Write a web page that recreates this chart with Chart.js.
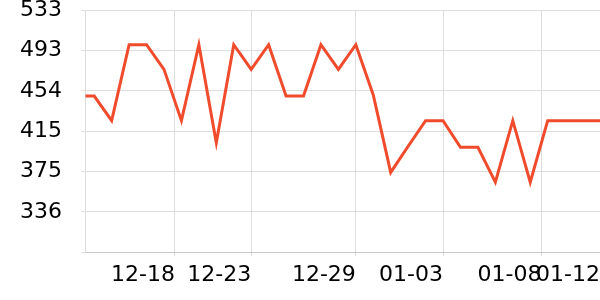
<!DOCTYPE html>
<html>
<head>
<meta charset="utf-8">
<script src="https://cdn.jsdelivr.net/npm/chart.js@4/dist/chart.umd.min.js"></script>
<style>
  html, body { margin: 0; padding: 0; background: #fff; }
</style>
</head>
<body>
<canvas id="graph" width="600" height="300"></canvas>
<script>
// one value per day, day 0 = 12-13
var values = [449, 449, 425, 499, 499, 475, 425, 499, 403.5, 499,
              475, 499, 449, 449, 499, 475, 499, 450, 374.5, 400,
              425, 425, 399, 399, 365, 425, 365, 425, 425, 425, 425];
var days = values.map(function (v, i) { return i; });

// x ticks (in days from 12-13) and their labels
var xTickPos = [5.63, 10, 16, 21, 26.64, 30];
var xTickLabels = ["12-18", "12-23", "12-29", "01-03", "01-08", "01-12"];

// y axis range and labels (bottom one is blank)
var yMin = 296.6;
var yMax = 532.6;
var yTickLabels = ["", "336", "375", "415", "454", "493", "533"];

var ctx = document.getElementById("graph").getContext('2d');

var myChart = new Chart(ctx, {
    type: 'line',
    data: {
        datasets: [{
            data: days.map(function (d, i) { return {x: d, y: values[i]}; }),
            fill: false,
            borderColor: '#ef4b2c',
            borderWidth: 3,
            pointRadius: 0,
            tension: 0
        }]
    },
    options: {
        responsive: false,
        animation: false,
        layout: { padding: { left: 20, right: 0, top: 0, bottom: 0 } },
        plugins: { legend: { display: false }, tooltip: { enabled: false } },
        scales: {
            x: {
                type: 'linear',
                min: 0.5,
                max: 30,
                afterBuildTicks: function (scale) {
                    scale.ticks = xTickPos.map(function (v) { return {value: v}; });
                },
                afterFit: function (scale) {
                    scale.height = 47.7;
                    scale.paddingLeft = 0;
                    scale.paddingRight = 0;
                },
                grid: { color: '#dddddd', tickLength: 4 },
                border: { color: '#c8c8c8' },
                ticks: {
                    autoSkip: false,
                    maxRotation: 0,
                    align: 'end',
                    padding: 6,
                    color: '#000',
                    font: { family: 'DejaVu Sans', size: 22 },
                    callback: function (v, i) { return xTickLabels[i]; }
                }
            },
            y: {
                min: yMin,
                max: yMax,
                afterBuildTicks: function (scale) {
                    var step = (yMax - yMin) / (yTickLabels.length - 1);
                    scale.ticks = yTickLabels.map(function (l, i) { return {value: yMin + i * step}; });
                },
                afterFit: function (scale) {
                    scale.width = 65.5;
                    scale.paddingTop = 10.3;
                    scale.paddingBottom = 0;
                },
                grid: { color: '#dddddd', tickLength: 4 },
                border: { color: '#dddddd' },
                ticks: {
                    crossAlign: 'far',
                    padding: 3,
                    color: '#000',
                    font: { family: 'DejaVu Sans', size: 22 },
                    callback: function (v, i) { return yTickLabels[i]; }
                }
            }
        }
    }
});
</script>
</body>
</html>
